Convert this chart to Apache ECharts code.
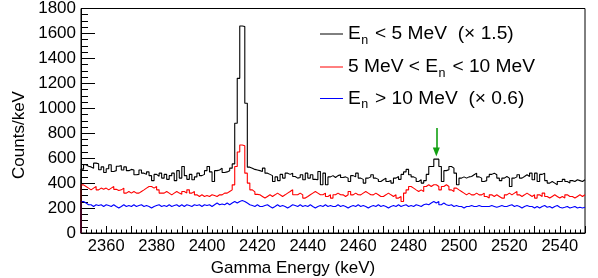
<!DOCTYPE html>
<html><head><meta charset="utf-8">
<script src="https://cdn.jsdelivr.net/npm/echarts@6/dist/echarts.min.js"></script>
<style>html,body{margin:0;padding:0;background:#fff}#c{width:598px;height:278px}</style>
</head><body><div id="c"></div>
<script>
// ---- data (1 keV bins starting at 2350 keV) ----
const binStart = 2350;
const binWidth = 1;
const blackVals = [
512,547,535,530,520,560,555,507,530,485,
515,547,493,500,535,540,505,530,500,510,
505,467,470,505,480,470,490,460,420,470,
455,480,440,470,430,460,480,420,500,440,
533,460,430,470,427,450,480,460,470,500,
533,490,413,500,505,520,485,490,500,520,
554,880,1240,1660,1655,1040,528,520,510,505,
500,493,520,480,470,460,413,450,420,470,
440,480,470,480,453,440,445,467,427,480,
440,467,430,427,493,387,480,387,450,460,
445,460,467,445,450,440,413,460,450,480,
440,430,400,440,450,467,440,430,413,427,
440,413,420,400,440,453,430,470,490,510,
467,450,440,413,427,400,420,470,533,533,
592,592,533,413,500,507,533,520,480,387,
440,450,440,450,453,467,480,450,440,413,
420,450,470,480,467,440,420,440,453,440,
373,440,450,467,440,453,467,453,480,427,
480,413,470,480,420,400,413,400,387,413,
413,430,413,400,420,413,427,420,413,427];
const redVals = [
386,373,360,346,360,373,346,360,350,360,
346,360,373,350,340,346,360,320,333,320,
333,320,320,333,346,360,373,373,360,373,
346,320,320,333,320,306,320,333,320,310,
333,320,346,320,333,306,293,306,293,300,
293,306,300,293,306,306,320,320,333,346,
386,533,650,706,700,480,400,346,330,310,
306,293,280,293,306,293,306,320,306,293,
306,320,333,347,307,307,320,306,280,293,
307,320,333,320,307,307,320,293,306,280,
307,320,307,306,293,307,333,306,320,307,
306,320,333,320,307,306,320,307,293,293,
306,320,306,293,307,280,293,253,320,346,
373,360,346,333,346,333,373,387,373,387,
387,373,346,373,387,373,346,333,360,346,
333,320,306,320,306,306,320,306,306,320,
293,280,306,293,306,293,280,280,306,320,
306,320,333,306,293,306,320,306,293,306,
280,306,293,320,293,280,293,306,293,280,
293,280,306,293,293,280,293,306,293,306];
const blueVals = [
253,240,227,227,213,227,220,227,213,227,
220,213,227,213,200,213,227,213,220,213,
227,213,220,227,213,220,213,200,213,220,
227,213,220,213,227,213,220,227,213,227,
213,227,220,213,227,220,227,213,227,220,
227,213,227,240,227,233,227,240,227,240,
253,240,253,260,253,240,227,220,213,227,
213,213,220,227,213,200,213,227,213,220,
213,200,213,227,220,213,227,213,220,213,
227,213,200,213,220,213,227,213,220,213,
213,227,213,220,213,200,213,220,213,227,
213,220,213,200,213,220,213,227,213,220,
213,200,213,220,213,227,213,220,227,213,
220,213,227,220,213,227,233,227,240,253,
240,253,227,240,227,220,227,213,220,213,
213,200,213,213,220,213,213,220,213,213,
213,213,220,213,206,213,220,213,213,220,
227,213,220,213,200,213,220,213,213,200,
213,200,213,220,206,213,200,213,220,206,
200,206,213,200,206,213,200,206,200,206];
const seriesNames = ['E_n < 5 MeV (x1.5)', '5 MeV < E_n < 10 MeV', 'E_n > 10 MeV (x0.6)'];
const seriesColors = ['#000000', '#ff0000', '#0000ff'];
const legendParts = [
  ['E', 'n', ' < 5 MeV  (\u00d7 1.5)'],
  ['5 MeV < E', 'n', ' < 10 MeV'],
  ['E', 'n', ' > 10 MeV  (\u00d7 0.6)']
];
const arrowX = 2491;
const arrowY = [842, 650];
const xMin = 2350, xMax = 2550, yMin = 0, yMax = 1800;

function steps(vals) {
  const d = [[binStart, 0]];
  vals.forEach((v, i) => d.push([binStart + i * binWidth, v]));
  d.push([binStart + vals.length * binWidth, vals[vals.length - 1]]);
  return d;
}

const FONT = '"Liberation Sans", Arial, Helvetica, sans-serif';
const cv = document.createElement('canvas').getContext('2d');
function tw(t, s) { cv.font = s + 'px ' + FONT; return cv.measureText(t).width; }

const gridL = 81, gridT = 8, gridR = 13, gridB = 45;
const graphics = [];
// legend
const legX0 = 320, legX1 = 343, textX = 348;
const rowY = [34, 67, 98.5];
const fs = 19.2, fsSub = 12.5;
legendParts.forEach((p, k) => {
  graphics.push({type: 'line', shape: {x1: legX0, y1: rowY[k], x2: legX1, y2: rowY[k]},
    style: {stroke: seriesColors[k], lineWidth: 1}, z: 100});
  let x = textX;
  graphics.push({type: 'text', x: x, y: rowY[k], style: {text: p[0], font: fs + 'px ' + FONT, fill: '#000', textVerticalAlign: 'middle', textAlign: 'left'}, z: 100});
  x += tw(p[0], fs) + 0.5;
  graphics.push({type: 'text', x: x, y: rowY[k] + 6.5, style: {text: p[1], font: fsSub + 'px ' + FONT, fill: '#000', textVerticalAlign: 'middle', textAlign: 'left'}, z: 100});
  x += tw(p[1], fsSub) + 1.5;
  graphics.push({type: 'text', x: x, y: rowY[k], style: {text: p[2], font: fs + 'px ' + FONT, fill: '#000', textVerticalAlign: 'middle', textAlign: 'left'}, z: 100});
});
// axis titles
graphics.push({type: 'text', x: 293, y: 268, style: {text: 'Gamma Energy (keV)', font: '17px ' + FONT, fill: '#000', textAlign: 'center', textVerticalAlign: 'middle'}, z: 100});
graphics.push({type: 'text', x: 19, y: 135, rotation: Math.PI / 2, style: {text: 'Counts/keV', font: '17px ' + FONT, fill: '#000', textAlign: 'center', textVerticalAlign: 'middle'}, z: 100});

const allVals = [blackVals, redVals, blueVals];
const series = allVals.map((vals, k) => ({
  name: seriesNames[k], type: 'line', step: 'end', data: steps(vals),
  symbol: 'none', clip: true, silent: true,
  lineStyle: {color: seriesColors[k], width: 1.1},
  itemStyle: {color: seriesColors[k]},
  z: 10 - k
}));
series[0].markLine = {
  silent: true, symbol: ['none', 'triangle'], symbolSize: [7, 9],
  lineStyle: {color: '#11a011', width: 1.6, type: 'solid'},
  label: {show: false},
  data: [[{coord: [arrowX, arrowY[0]]}, {coord: [arrowX, arrowY[1]]}]]
};

const chart = echarts.init(document.getElementById('c'), null, {renderer: 'canvas'});
chart.setOption({
  animation: false,
  backgroundColor: '#fff',
  grid: {left: gridL, right: gridR, top: gridT, bottom: gridB, show: true, borderColor: '#000', borderWidth: 1, backgroundColor: 'transparent'},
  xAxis: {
    type: 'value', min: xMin, max: xMax, interval: 10,
    axisLine: {lineStyle: {color: '#000', width: 1}},
    axisTick: {inside: true, length: 7, lineStyle: {color: '#000'}},
    minorTick: {show: true, splitNumber: 5, length: 3.5, lineStyle: {color: '#000'}},
    splitLine: {show: false},
    axisLabel: {fontSize: 16.5, fontFamily: FONT, color: '#000', margin: 5,
      formatter: v => (v % 20 === 0 && v > xMin && v < xMax) ? String(v) : ''}
  },
  yAxis: {
    type: 'value', min: yMin, max: yMax, interval: 200,
    axisLine: {lineStyle: {color: '#000', width: 1}},
    axisTick: {inside: true, length: 14, lineStyle: {color: '#000'}},
    minorTick: {show: true, splitNumber: 4, length: 7, lineStyle: {color: '#000'}},
    splitLine: {show: false},
    axisLabel: {fontSize: 17, fontFamily: FONT, color: '#000', margin: 5, formatter: v => String(v)}
  },
  graphic: graphics,
  series: series
});
</script></body></html>
